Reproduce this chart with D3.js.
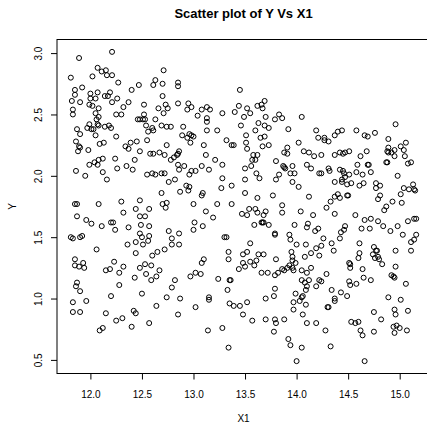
<!DOCTYPE html>
<html>
<head>
<meta charset="utf-8">
<script src="https://cdn.jsdelivr.net/npm/d3@7"></script>
<style>
  body { margin: 0; background: #fff; }
  svg text { font-family: "Liberation Sans", Arial, Helvetica, sans-serif; fill: #000; }
</style>
</head>
<body>
<svg id="chart" width="427" height="424"></svg>
<script>
var title = 'Scatter plot of Y Vs X1',
    xLabel = 'X1',
    yLabel = 'Y'
var xTicks = [12.0, 12.5, 13.0, 13.5, 14.0, 14.5, 15.0]
var yTicks = [0.5, 1.0, 1.5, 2.0, 2.5, 3.0]

// [X1, Y]
var points = [
  [11.81,2.80],[11.89,2.96],[12.21,3.01],[12.07,2.88],[12.11,2.85],[12.15,2.86],[12.16,2.82],[12.21,2.82],[12.02,2.81],
  [11.85,2.70],[11.92,2.72],[12.00,2.67],[12.07,2.68],[12.19,2.68],[12.27,2.76],[11.85,2.66],[11.82,2.61],[11.90,2.60],
  [12.00,2.63],[12.05,2.63],[12.14,2.65],[12.17,2.65],[12.21,2.60],[12.26,2.63],[11.83,2.54],[11.83,2.50],[11.99,2.58],
  [12.02,2.57],[12.08,2.55],[12.05,2.51],[12.08,2.48],[12.25,2.50],[12.30,2.50],[12.32,2.56],[12.37,2.60],[12.40,2.70],
  [12.47,2.74],[12.06,2.46],[12.07,2.42],[11.99,2.42],[11.97,2.39],[12.01,2.38],[12.03,2.38],[12.08,2.41],[11.87,2.38],
  [11.90,2.34],[12.18,2.41],[12.20,2.39],[12.14,2.40],[11.86,2.28],[11.89,2.24],[11.88,2.20],[11.90,2.23],[12.05,2.33],
  [12.09,2.26],[12.13,2.27],[11.98,2.21],[12.25,2.32],[12.34,2.24],[12.37,2.22],[12.39,2.27],[12.45,2.28],[11.86,2.04],
  [11.95,2.00],[11.99,2.09],[12.04,2.11],[12.08,2.13],[12.07,2.09],[12.12,2.14],[12.12,2.03],[12.16,1.97],[12.24,2.14],
  [12.26,2.06],[12.35,2.08],[12.41,2.05],[12.43,2.13],[12.48,2.20],
  [11.85,1.77],[11.87,1.77],[11.87,1.67],[11.96,1.64],[12.01,1.61],[12.08,1.77],[12.11,1.59],[12.20,1.62],[12.22,1.62],
  [12.24,1.56],[12.30,1.79],[12.32,1.70],[12.37,1.58],[12.36,1.44],[12.44,1.73],[12.48,1.80],[12.48,1.67],[12.53,1.67],
  [12.57,1.73],[12.57,1.59],[11.81,1.50],[11.83,1.49],[11.90,1.50],[11.92,1.51],[12.06,1.40],[12.44,1.46],[12.44,1.37],
  [12.48,1.53],[12.50,1.50],[12.51,1.44],[12.56,1.47],[12.57,1.51],[12.49,1.60],
  [11.85,1.32],[11.85,1.27],[11.89,1.26],[11.93,1.29],[11.94,1.25],[11.86,1.10],[11.87,1.13],[11.90,1.06],[11.83,0.97],
  [11.83,0.89],[11.90,0.89],[11.96,0.98],[12.15,1.23],[12.19,1.24],[12.23,1.30],[12.28,1.21],[12.32,1.26],[12.28,1.11],
  [12.20,1.02],[12.15,0.88],[12.12,0.76],[12.09,0.74],[12.25,0.82],[12.31,0.84],[12.40,0.77],[12.42,0.90],[12.44,0.88],
  [12.43,1.17],[12.48,1.25],[12.50,1.04],[12.54,1.20],[12.53,1.28],[12.57,0.80],[12.59,1.15],[12.59,1.27],[12.60,1.35],
  [12.63,2.78],[12.61,2.74],[12.71,2.86],[12.70,2.75],[12.70,2.65],[12.66,2.55],[12.71,2.51],[12.73,2.58],[12.75,2.55],
  [12.63,2.46],[12.52,2.58],[12.52,2.50],[12.46,2.46],[12.48,2.46],[12.51,2.46],[12.53,2.46],[12.54,2.41],[12.56,2.36],
  [12.60,2.39],[12.61,2.37],[12.55,2.29],[12.69,2.41],[12.74,2.40],[12.78,2.40],[12.74,2.25],[12.58,2.18],[12.61,2.18],
  [12.67,2.19],[12.72,2.17],[12.78,2.13],[12.81,2.15],[12.84,2.17],[12.85,2.18],[12.86,2.20],[12.85,2.76],[12.85,2.73],
  [12.85,2.59],[12.95,2.59],[12.98,2.56],[12.94,2.54],[12.90,2.40],[12.89,2.33],[12.96,2.34],[12.98,2.33],[12.97,2.27],
  [13.00,2.32],[12.94,2.31],[13.04,2.49],[13.08,2.54],[13.13,2.56],[13.16,2.54],[13.13,2.47],[13.13,2.44],[13.13,2.37],
  [13.10,2.25],[13.12,2.17],[13.23,2.37],[13.28,2.51],[13.32,2.29],[13.21,2.13],[13.15,2.05],[13.08,2.08],[13.02,2.04],
  [12.98,2.04],[12.96,2.01],[12.91,2.08],[12.85,2.09],[12.86,2.05],[12.82,1.97],[12.76,1.95],[12.72,2.02],[12.69,2.02],
  [12.63,2.01],[12.60,2.02],[12.55,2.01],[12.69,1.86],[12.87,1.87],[12.93,1.92],[12.96,1.91],[12.95,1.88],[13.28,1.98],
  [13.27,1.90],[13.09,1.86],[13.08,1.84],[13.37,1.92],[13.37,2.25],[13.28,2.09],
  [12.70,1.77],[12.74,1.78],[12.73,1.74],[13.00,1.77],[13.23,1.77],[13.37,1.77],[13.12,1.71],[13.19,1.66],[13.01,1.62],
  [13.00,1.56],[13.09,1.59],[12.76,1.55],[12.79,1.49],[12.86,1.53],[12.86,1.44],[12.79,1.44],[12.72,1.40],[12.65,1.38],
  [13.30,1.50],[13.32,1.50],[13.34,1.38],[13.34,1.32],[13.10,1.32],[13.08,1.29],[13.07,1.20],[13.02,1.21],[12.97,1.18],
  [12.82,1.15],[12.79,1.09],[12.67,1.23],[12.64,1.18],[12.74,1.01],[12.87,1.00],[12.85,0.87],[12.64,0.94],[13.02,0.93],
  [13.15,1.01],[13.15,0.99],[13.14,0.74],[13.28,0.76],[13.24,1.16],[13.35,1.15],[13.36,1.15],[13.33,1.07],[13.35,0.96],
  [13.39,0.94],[13.45,0.94],[13.34,0.60],
  [13.45,2.70],[13.44,2.57],[13.40,2.52],[13.52,2.55],[13.55,2.51],[13.49,2.48],[13.46,2.41],[13.60,2.37],[13.51,2.33],
  [13.51,2.27],[13.52,2.22],[13.58,2.17],[13.57,2.13],[13.56,2.08],[13.39,2.25],[13.50,1.97],[13.62,2.57],[13.66,2.58],
  [13.67,2.55],[13.69,2.61],[13.70,2.48],[13.63,2.43],[13.69,2.41],[13.73,2.39],[13.65,2.31],[13.69,2.32],[13.67,2.24],
  [13.73,2.25],[13.79,2.46],[13.83,2.50],[13.86,2.47],[13.92,2.38],[13.91,2.23],[13.88,2.19],[13.91,2.18],[13.80,2.12],
  [13.87,2.08],[13.88,2.07],[13.89,2.06],[13.96,2.08],[13.94,2.02],[13.98,2.02],[13.96,1.95],[13.83,2.01],[13.80,1.97],
  [14.02,2.27],[14.05,2.48],[14.07,2.20],[14.12,2.19],[14.17,2.16],[14.10,2.09],[14.14,2.06],[14.19,2.37],[14.21,2.31],
  [14.27,2.31],[14.27,2.29],[14.24,2.17],[14.22,2.02],[14.24,2.02],[14.02,1.91],[13.62,2.17],[13.60,2.13],[13.61,2.02],
  [13.64,1.98],[13.50,2.06],
  [13.50,1.86],[13.62,1.82],[13.77,1.84],[13.86,1.76],[13.86,1.70],[13.47,1.69],[13.52,1.68],[13.54,1.73],[13.60,1.73],
  [13.62,1.70],[13.70,1.71],[13.68,1.68],[13.66,1.62],[13.67,1.62],[13.68,1.62],[13.73,1.60],[13.59,1.60],[13.79,1.53],
  [13.79,1.52],[13.93,1.52],[13.94,1.48],[13.98,1.60],[14.04,1.71],[14.12,1.83],[14.16,1.68],[14.10,1.58],[14.11,1.61],
  [14.18,1.55],[14.21,1.57],[14.00,1.44],[14.19,1.41],[14.24,1.43],[14.26,1.49],[14.22,1.35],[14.14,1.37],[14.08,1.34],
  [14.09,1.44],[13.55,1.45],[13.52,1.38],[13.48,1.36],[13.61,1.31],[13.55,1.30],[13.48,1.29],[13.50,1.26],[13.44,1.24],
  [13.59,1.27],[13.63,1.36],[13.68,1.36],[13.80,1.32],[13.66,1.21],[13.72,1.21],[13.79,1.19],[13.82,1.21],[13.86,1.24],
  [13.88,1.23],[13.91,1.25],[13.95,1.38],[13.96,1.34],[13.96,1.31],[13.99,1.29],[13.96,1.25],[13.97,1.23],[13.93,1.27],
  [14.05,1.15],[14.05,1.23],[14.10,1.21],[14.14,1.25],[14.08,1.13],[14.10,1.10],[14.09,1.07],[14.12,1.15],[14.19,1.10],
  [14.22,1.15],[14.24,1.14],[13.79,1.08],[13.70,1.00],[13.78,1.02],[13.99,1.04],[13.97,0.97],[13.97,0.91],[14.03,0.98],
  [14.05,1.01],[14.06,1.02],[14.09,0.95],[14.06,0.87],[13.48,0.87],[13.52,0.97],[13.57,0.82],[13.70,0.83],[13.79,0.83],
  [13.80,0.80],[13.78,0.73],[13.88,0.83],[13.92,0.67],[13.94,0.62],[14.00,0.49],[14.05,0.60],[14.10,0.80],[14.19,0.80],
  [14.28,0.74],[14.29,1.20],
  [14.31,2.28],[14.37,2.33],[14.40,2.36],[14.44,2.37],[14.37,2.17],[14.42,2.19],[14.45,2.18],[14.47,2.19],[14.51,2.20],
  [14.31,2.06],[14.32,2.04],[14.42,2.05],[14.45,2.04],[14.46,2.02],[14.47,1.99],[14.44,1.97],[14.44,1.95],[14.37,1.95],
  [14.49,1.93],[14.53,1.94],[14.51,2.01],[14.58,2.03],[14.59,2.09],[14.58,2.37],[14.62,2.16],[14.64,2.01],[14.61,1.92],
  [14.65,1.94],[14.66,2.33],[14.69,2.32],[14.69,2.09],[14.70,2.09],[14.68,2.20],[14.72,2.03],[14.76,2.35],[14.77,1.94],
  [14.77,1.90],[14.81,1.92],[14.89,2.19],[14.88,2.20],[14.89,2.30],[14.89,2.23],[14.92,2.19],[14.87,2.11],[14.88,2.11],
  [14.95,2.16],[14.95,2.21],[14.96,2.42],[14.98,2.00],[15.01,2.24],[15.06,2.27],[15.04,2.21],[15.05,2.16],[15.08,2.10],
  [15.11,2.11],[15.04,1.90],[15.09,1.89],[15.01,1.85],[15.13,1.93],[15.15,1.88],[15.14,1.89],[14.93,1.79],[15.02,1.78],
  [14.87,1.75],[14.85,1.72],[14.81,1.84],[14.79,1.81],[14.79,1.63],[14.72,1.65],[14.66,1.64],[14.63,1.57],[14.71,1.57],
  [14.57,1.68],[14.47,1.59],[14.43,1.54],[14.42,1.49],[14.46,1.56],[14.29,1.74],[14.33,1.79],[14.37,1.83],[14.40,1.85],
  [14.42,1.82],[14.49,1.84],[14.50,1.84],[14.37,1.69],[14.34,1.45],[14.36,1.39],[14.51,1.29],[14.52,1.28],[14.52,1.25],
  [14.60,1.33],[14.61,1.37],[14.61,1.45],[14.64,1.24],[14.65,1.17],[14.58,1.12],[14.51,1.14],[14.52,1.11],[14.72,1.15],
  [14.74,1.36],[14.75,1.42],[14.77,1.39],[14.76,1.33],[14.78,1.39],[14.80,1.32],[14.83,1.28],[14.79,1.34],[14.84,1.59],
  [14.91,1.55],[14.98,1.59],[15.08,1.63],[15.03,1.52],[15.14,1.65],[15.16,1.65],[15.16,1.52],[15.14,1.48],[15.11,1.46],
  [15.11,1.39],[14.96,1.39],[14.96,1.26],[14.92,1.19],[14.94,1.18],[14.95,1.17],[15.06,1.12],[14.89,1.01],[15.01,0.99],
  [14.95,0.91],[14.96,0.87],[15.08,0.90],[14.75,0.89],[14.82,0.83],[14.75,0.73],[14.94,0.77],[14.97,0.78],[15.00,0.76],
  [14.95,0.72],[15.07,0.74],[14.53,0.81],[14.57,0.80],[14.60,0.81],[14.62,0.74],[14.64,0.70],[14.66,0.49],[14.49,1.02],
  [14.43,1.05],[14.37,1.00],[14.37,0.98],[14.34,1.07],[14.30,0.93],[14.31,0.93],[14.33,0.61]
]

var plot = {left: 57, right: 430, top: 39.5, bottom: 373.5}

// R style: extend the data range by 4% on each side
var pad = function(ext) {
    var d = (ext[1] - ext[0]) * 0.04
    return [ext[0] - d, ext[1] + d]
}
var x = d3.scaleLinear()
    .domain(pad(d3.extent(points, function(d) { return d[0] })))
    .range([plot.left, plot.right])
var y = d3.scaleLinear()
    .domain(pad(d3.extent(points, function(d) { return d[1] })))
    .range([plot.bottom, plot.top])

var svg = d3.select('#chart')

// box
svg.append('rect')
    .attr('x', plot.left).attr('y', plot.top)
    .attr('width', plot.right - plot.left).attr('height', plot.bottom - plot.top)
    .attr('fill', 'none').attr('stroke', '#000').attr('stroke-width', 1)

// x axis
var gx = svg.append('g')
    .attr('transform', 'translate(0,' + plot.bottom + ')')
    .call(d3.axisBottom(x).tickValues(xTicks).tickSize(6).tickSizeOuter(0).tickFormat(d3.format('.1f')))
gx.select('.domain').remove()
gx.selectAll('.tick line').attr('stroke', '#000')
gx.selectAll('.tick text')
    .attr('y', 24).attr('dy', 0)
    .style('font-size', '10px')

// y axis, labels turned like R does
var gy = svg.append('g')
    .attr('transform', 'translate(' + plot.left + ',0)')
    .call(d3.axisLeft(y).tickValues(yTicks).tickSize(6).tickSizeOuter(0).tickFormat(d3.format('.1f')))
gy.select('.domain').remove()
gy.selectAll('.tick line').attr('stroke', '#000')
gy.selectAll('.tick text')
    .attr('x', null).attr('dy', null)
    .attr('text-anchor', 'middle')
    .attr('transform', 'translate(-15.5,0) rotate(-90)')
    .style('font-size', '10px')

// points
svg.append('g')
    .selectAll('circle')
    .data(points)
    .enter().append('circle')
    .attr('cx', function(d) { return x(d[0]) })
    .attr('cy', function(d) { return y(d[1]) })
    .attr('r', 2.5)
    .attr('fill', 'none')
    .attr('stroke', '#000')
    .attr('stroke-width', 1)

// titles
svg.append('text')
    .attr('x', (plot.left + plot.right) / 2).attr('y', 18.3)
    .attr('text-anchor', 'middle')
    .style('font-size', '13px').style('font-weight', 'bold')
    .text(title)
svg.append('text')
    .attr('x', (plot.left + plot.right) / 2).attr('y', 422)
    .attr('text-anchor', 'middle')
    .style('font-size', '10px')
    .text(xLabel)
svg.append('text')
    .attr('transform', 'translate(16,' + ((plot.top + plot.bottom) / 2) + ') rotate(-90)')
    .attr('text-anchor', 'middle')
    .style('font-size', '10px')
    .text(yLabel)
</script>
</body>
</html>
